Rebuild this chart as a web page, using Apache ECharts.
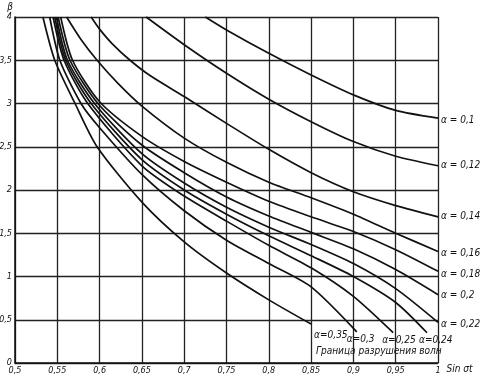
<!DOCTYPE html>
<html><head><meta charset="utf-8">
<script src="https://cdn.jsdelivr.net/npm/echarts@6/dist/echarts.min.js"></script>
<style>html,body{margin:0;padding:0;background:#fff}#c{width:482px;height:378px}</style>
</head><body><div id="c"></div>
<script>
// ---- data (x = sin σt, y = β) ----
const xTicks = [0.5, 0.55, 0.6, 0.65, 0.7, 0.75, 0.8, 0.85, 0.9, 0.95, 1];
const yTicks = [0, 0.5, 1, 1.5, 2, 2.5, 3, 3.5, 4];
const a010 = [[0.725,4],[0.75,3.85],[0.8,3.58],[0.85,3.33],[0.9,3.10],[0.95,2.92],[1.0,2.83]];
const a012 = [[0.655,4],[0.7,3.68],[0.75,3.35],[0.8,3.05],[0.85,2.79],[0.9,2.56],[0.95,2.39],[1.0,2.28]];
const a014 = [[0.59,4],[0.6,3.86],[0.615,3.69],[0.636,3.5],[0.66,3.32],[0.7,3.08],[0.75,2.77],[0.8,2.47],[0.85,2.2],[0.9,1.98],[0.95,1.82],[1.0,1.69]];
const a016 = [[0.561,4],[0.578,3.74],[0.597,3.5],[0.622,3.23],[0.65,2.97],[0.7,2.6],[0.75,2.32],[0.8,2.09],[0.85,1.91],[0.9,1.72],[0.95,1.5],[1.0,1.29]];
const a018 = [[0.554,4],[0.568,3.5],[0.6,3.02],[0.65,2.62],[0.7,2.33],[0.75,2.09],[0.8,1.87],[0.85,1.69],[0.9,1.52],[0.95,1.31],[1.0,1.06]];
const a020 = [[0.551,4],[0.565,3.5],[0.598,3.0],[0.65,2.52],[0.7,2.2],[0.75,1.92],[0.8,1.7],[0.85,1.51],[0.9,1.32],[0.95,1.08],[1.0,0.79]];
const a022 = [[0.549,4],[0.562,3.5],[0.594,3.0],[0.65,2.42],[0.7,2.08],[0.75,1.8],[0.8,1.57],[0.85,1.37],[0.9,1.15],[0.95,0.86],[1.0,0.47]];
const a024 = [[0.547,4],[0.56,3.5],[0.59,3.0],[0.65,2.35],[0.7,2.0],[0.75,1.72],[0.8,1.47],[0.85,1.24],[0.9,1.0],[0.95,0.7],[0.987,0.35]];
const a025 = [[0.545,4],[0.558,3.5],[0.586,3.0],[0.65,2.28],[0.7,1.93],[0.75,1.64],[0.8,1.36],[0.85,1.1],[0.9,0.77],[0.947,0.35]];
const a030 = [[0.541,4],[0.553,3.5],[0.578,3.0],[0.6,2.72],[0.65,2.18],[0.7,1.76],[0.75,1.42],[0.8,1.15],[0.85,0.88],[0.904,0.36]];
const a035 = [[0.533,4],[0.547,3.5],[0.571,3.0],[0.597,2.5],[0.65,1.86],[0.7,1.4],[0.75,1.04],[0.8,0.73],[0.85,0.45]];
const rightLabels = ['α = 0,1','α = 0,12','α = 0,14','α = 0,16','α = 0,18','α = 0,2','α = 0,22'];
const bottomLabels = ['α=0,24','α=0,25','α=0,3','α=0,35'];
const boundaryText = 'Граница разрушения волн';

const FONT = '"Liberation Sans Narrow","DejaVu Sans Condensed","DejaVu Sans",sans-serif';
const fmt = v => String(+(+v).toFixed(2)).replace('.', ',');
const lab = {fontFamily: FONT, fontStyle: 'italic', fontSize: 10, color: '#111'};

function curve(data, text, off) {
  return {
    type: 'line', data: data, smooth: 0.25, symbol: 'none', clip: false,
    lineStyle: {color: '#111', width: 1.7},
    endLabel: Object.assign({show: true, formatter: text, distance: 3, offset: off}, lab)
  };
}

const chart = echarts.init(document.getElementById('c'), null, {renderer: 'canvas'});
chart.setOption({
  animation: false,
  backgroundColor: '#fff',
  grid: {left: 15, right: 44, top: 17, bottom: 15, containLabel: false, outerBoundsMode: 'none'},
  xAxis: {
    type: 'value', min: xTicks[0], max: xTicks[xTicks.length - 1], interval: 0.05,
    name: 'Sin σt', nameLocation: 'end', nameGap: 7,
    nameTextStyle: Object.assign({}, lab, {fontSize: 10, verticalAlign: 'top', padding: [1, 0, 0, 0]}),
    axisLine: {show: true, lineStyle: {color: '#111', width: 1.5}},
    axisTick: {show: false},
    axisLabel: Object.assign({formatter: fmt, margin: 3}, lab, {fontSize: 9}),
    splitLine: {show: true, lineStyle: {color: '#222', width: 1.3}}
  },
  yAxis: {
    type: 'value', min: yTicks[0], max: yTicks[yTicks.length - 1], interval: 0.5,
    name: 'β', nameLocation: 'end', nameGap: 4,
    nameTextStyle: Object.assign({}, lab, {fontSize: 10, align: 'right', padding: [0, 2, 0, 0]}),
    axisLine: {show: true, lineStyle: {color: '#111', width: 1.5}},
    axisTick: {show: false},
    axisLabel: Object.assign({formatter: fmt, margin: 3}, lab, {fontSize: 9}),
    splitLine: {show: true, lineStyle: {color: '#222', width: 1.3}}
  },
  graphic: [{
    type: 'text', left: 316, top: 346,
    style: {text: boundaryText, font: 'italic 10px ' + FONT, fill: '#111'}
  }],
  series: [
    curve(a010, rightLabels[0], [0, 2]),
    curve(a012, rightLabels[1], [0, 0]),
    curve(a014, rightLabels[2], [0, 0]),
    curve(a016, rightLabels[3], [0, 2]),
    curve(a018, rightLabels[4], [0, 3]),
    curve(a020, rightLabels[5], [0, 1]),
    curve(a022, rightLabels[6], [0, 2]),
    curve(a024, bottomLabels[0], [-11, 8]),
    curve(a025, bottomLabels[1], [-14, 8]),
    curve(a030, bottomLabels[2], [-13, 8]),
    curve(a035, bottomLabels[3], [0, 11])
  ]
});
</script></body></html>
